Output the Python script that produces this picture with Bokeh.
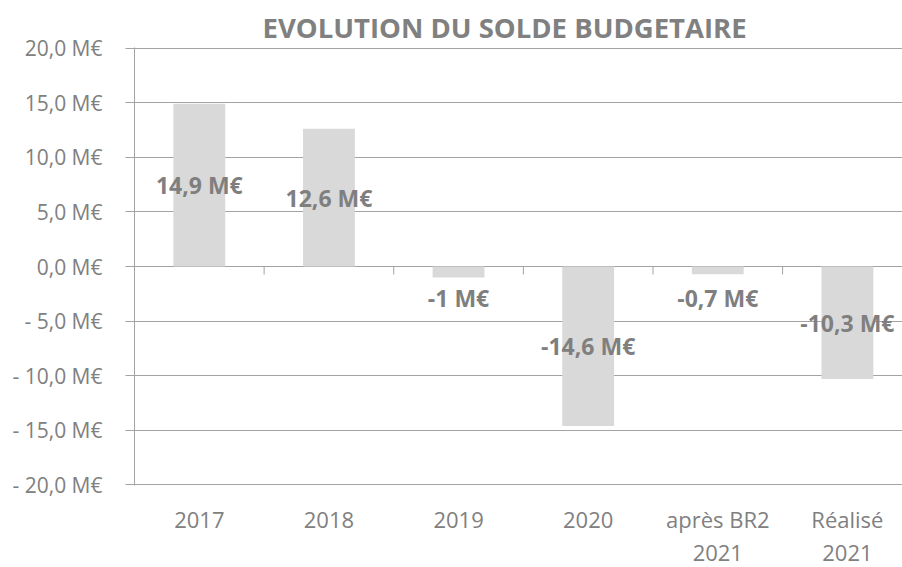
from bokeh.plotting import figure
from bokeh.models import Range1d, FixedTicker, ColumnDataSource
from bokeh.core.properties import value
from bokeh.embed import file_html
from bokeh.resources import INLINE

# ---- data ----
categories = ["2017", "2018", "2019", "2020", "après BR2\n2021", "Réalisé\n2021"]
values = [14.9, 12.6, -1.0, -14.6, -0.7, -10.3]
value_labels = ["14,9 M€", "12,6 M€", "-1 M€", "-14,6 M€", "-0,7 M€", "-10,3 M€"]
y_ticks = [20, 15, 10, 5, 0, -5, -10, -15, -20]
y_tick_labels = ["20,0 M€", "15,0 M€", "10,0 M€", "5,0 M€", "0,0 M€",
                 "- 5,0 M€", "- 10,0 M€", "- 15,0 M€", "- 20,0 M€"]
title_text = "EVOLUTION DU SOLDE BUDGETAIRE"

FONT = "Open Sans"
TEXT_COL = "#808080"
GRID_COL = "#a3a3a3"

n = len(categories)
xs = [i + 0.5 for i in range(n)]

# label placement: centre of bar, pushed away from the axis for tiny bars
min_off = 2.85
label_y = []
for v in values:
    half = v / 2.0
    if abs(half) < min_off:
        half = min_off if v > 0 else -min_off
    label_y.append(half)

src = ColumnDataSource(dict(x=xs, top=values, ly=label_y, lab=value_labels))

p = figure(frame_width=768, frame_height=438, output_backend="svg",
           toolbar_location=None,
           x_range=Range1d(0, 5.925), y_range=Range1d(-20.05, 20.05),
           min_border_left=134, min_border_right=0, min_border_top=47,
           min_border_bottom=82)
p.outline_line_color = None
p.background_fill_color = "white"
p.border_fill_color = "white"

# title
p.title.text = title_text
p.title.align = "left"
p.title.offset = 128
p.title.text_font = FONT
p.title.text_font_style = "bold"
p.title.text_font_size = "27.5px"
p.title.text_color = TEXT_COL
p.title.standoff = 4

# bars
p.vbar(x="x", top="top", bottom=0, width=0.4, source=src,
       fill_color="#d9d9d9", line_color=None)

# ticks on the zero line at category boundaries
bounds = list(range(1, n))
p.segment(x0=bounds, y0=[0] * len(bounds), x1=bounds, y1=[-0.73] * len(bounds),
          line_color=GRID_COL, line_width=1)

# value labels
p.text(x="x", y="ly", text="lab", source=src, text_align="center",
       text_baseline="middle", text_font=value(FONT), text_font_style="bold",
       text_font_size="23px", text_color="#7f7f7f")

# y axis
ya = p.yaxis[0]
ya.ticker = FixedTicker(ticks=y_ticks)
ya.major_label_overrides = {t: l for t, l in zip(y_ticks, y_tick_labels)}
ya.axis_line_color = GRID_COL
ya.major_tick_line_color = GRID_COL
ya.major_tick_out = 9
ya.major_tick_in = 0
ya.minor_tick_line_color = None
ya.major_label_text_font = FONT
ya.major_label_text_font_size = "21px"
ya.major_label_text_color = TEXT_COL
ya.major_label_standoff = 23

# x axis
xa = p.xaxis[0]
xa.ticker = FixedTicker(ticks=xs)
xa.major_label_overrides = {x: c for x, c in zip(xs, categories)}
xa.axis_line_color = None
xa.major_tick_line_color = None
xa.minor_tick_line_color = None
xa.major_label_text_font = FONT
xa.major_label_text_font_size = "22px"
xa.major_label_text_color = TEXT_COL
xa.major_label_text_line_height = 1.1
xa.major_label_standoff = 12

# grid
p.xgrid.grid_line_color = None
p.ygrid.ticker = FixedTicker(ticks=y_ticks)
p.ygrid.grid_line_color = GRID_COL
p.ygrid.grid_line_width = 1

open("out.html", "w").write(file_html(p, INLINE))
